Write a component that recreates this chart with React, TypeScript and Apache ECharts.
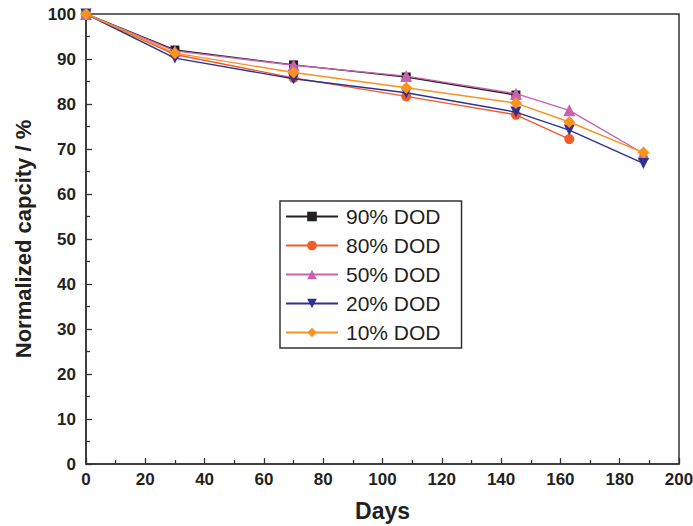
import React, { useEffect, useRef } from "react";
import * as echarts from "echarts";

const days = [0, 30, 70, 108, 145, 163, 188];
const seriesNames = ["90% DOD", "80% DOD", "50% DOD", "20% DOD", "10% DOD"];
const dod90 = [100, 92, 88.7, 86, 82];
const dod80 = [100, 91, 85.8, 81.7, 77.6, 72.2];
const dod50 = [100, 91.8, 88.6, 86.2, 82.3, 78.6, 69];
const dod20 = [100, 90.2, 85.6, 82.5, 78.2, 74.2, 66.8];
const dod10 = [100, 91.3, 87, 83.6, 80.2, 76, 69.2];
const allValues = [dod90, dod80, dod50, dod20, dod10];

const colors = ["#231f20", "#f15a29", "#c961b0", "#2e3192", "#f7931e"];
const symbols = [
  "rect",
  "circle",
  "triangle",
  "path://M0,0 L10,0 L5,9 Z",
  "path://M5,0 L10,5 L5,10 L0,5 Z",
];
const symbolSizes = [9, 10, 12, 11, 12];

const FONT = "'Liberation Sans Narrow', 'Liberation Sans', Arial, sans-serif";

export default function App() {
  const ref = useRef<HTMLDivElement>(null);
  useEffect(() => {
    if (!ref.current) return;
    const chart = echarts.init(ref.current, undefined, { renderer: "svg" });
    const series = allValues.map((vals, i) => ({
      name: seriesNames[i],
      type: "line",
      data: vals.map((v, j) => [days[j], v]),
      symbol: symbols[i],
      symbolSize: symbolSizes[i],
      showSymbol: true,
      lineStyle: { color: colors[i], width: 1.4 },
      itemStyle: { color: colors[i] },
      z: 2 + i,
    }));
    chart.setOption({
      animation: false,
      backgroundColor: "#ffffff",
      grid: {
        left: 86,
        top: 14,
        right: 14,
        bottom: 62,
        show: true,
        borderColor: "#333",
        borderWidth: 1.5,
        containLabel: false,
        outerBoundsMode: "none",
      },
      legend: {
        data: seriesNames,
        orient: "vertical",
        left: 280,
        top: 201,
        itemWidth: 52,
        itemHeight: 12,
        itemGap: 8,
        padding: [5, 21, 5, 5],
        borderColor: "#333",
        borderWidth: 1.5,
        backgroundColor: "#fff",
        textStyle: {
          fontFamily: "'Liberation Sans', Arial, sans-serif",
          fontSize: 21,
          lineHeight: 21,
          color: "#231f20",
          padding: [0, 0, 0, 3],
        },
      },
      xAxis: {
        type: "value",
        min: 0,
        max: 200,
        interval: 20,
        name: "Days",
        nameLocation: "middle",
        nameGap: 35,
        nameTextStyle: {
          fontFamily: FONT,
          fontSize: 23,
          fontWeight: "bold",
          color: "#231f20",
        },
        axisLine: { show: true, lineStyle: { color: "#333", width: 1.5 } },
        axisTick: { show: true, inside: true, length: 6, lineStyle: { color: "#333", width: 1.3 } },
        minorTick: { show: true, splitNumber: 2, length: 4, lineStyle: { color: "#333", width: 1.3 } },
        axisLabel: {
          fontFamily: FONT,
          fontSize: 17,
          fontWeight: "bold",
          color: "#231f20",
          margin: 7,
        },
        splitLine: { show: false },
      },
      yAxis: {
        type: "value",
        min: 0,
        max: 100,
        interval: 10,
        name: "Normalized capcity / %",
        nameLocation: "middle",
        nameGap: 52,
        nameTextStyle: {
          fontFamily: FONT,
          fontSize: 22,
          fontWeight: "bold",
          color: "#231f20",
        },
        axisLine: { show: true, lineStyle: { color: "#333", width: 1.5 } },
        axisTick: { show: true, inside: true, length: 6, lineStyle: { color: "#333", width: 1.3 } },
        minorTick: { show: true, splitNumber: 2, length: 4, lineStyle: { color: "#333", width: 1.3 } },
        axisLabel: {
          fontFamily: FONT,
          fontSize: 17,
          fontWeight: "bold",
          color: "#231f20",
          margin: 10,
        },
        splitLine: { show: false },
      },
      series,
    });
    return () => chart.dispose();
  }, []);
  return (
    <div
      ref={ref}
      style={{ position: "fixed", left: 0, top: 0, width: 693, height: 526, background: "#fff" }}
    />
  );
}
